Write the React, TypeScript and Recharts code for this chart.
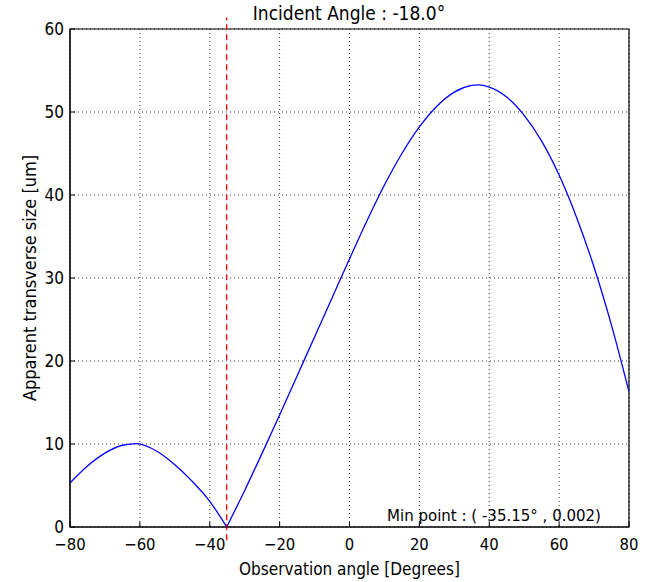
import { LineChart, Line, XAxis, YAxis, CartesianGrid, ReferenceLine, ReferenceArea } from 'recharts';

// left branch (before the minimum) and right branch (after it)
const leftAngles = [-80, -75, -70, -65, -61, -55, -50, -45, -40, -35.15];
const leftSize = [5.3, 7.35, 8.9, 9.85, 10.05, 9.1, 7.5, 5.5, 3.1, 0.002];

const rightAngles = [-35.15, -30, -25, -20, -15, -10, -5, 0, 5, 10, 15, 20, 25, 30, 35, 37, 40, 45, 50, 55, 60, 65, 70, 75, 80];
const rightSize = [0.002, 4.4, 8.9, 13.5, 18.2, 22.9, 27.6, 32.3, 36.9, 41.2, 45.0, 48.2, 50.7, 52.4, 53.2, 53.27, 53.0, 51.8, 49.6, 46.5, 42.4, 37.3, 31.3, 24.3, 16.3];

const xTicks = [-80, -60, -40, -20, 0, 20, 40, 60, 80];
const yTicks = [0, 10, 20, 30, 40, 50, 60];

const minAngle = -35.15;
const minValue = 0.002;

const leftData = leftAngles.map((x, i) => ({ x, y: leftSize[i] }));
const rightData = rightAngles.map((x, i) => ({ x, y: rightSize[i] }));

const font = "'DejaVu Sans Condensed', 'Liberation Sans Narrow', 'DejaVu Sans', sans-serif";
const fmt = (v: number) => String(v).replace('-', '\u2212');

export default function App() {
  return (
    <div style={{ position: 'absolute', left: 0, top: 0, width: 654, height: 582, background: '#fff', fontFamily: font }}>
      <div style={{ position: 'absolute', left: 69, width: 560, top: 2, textAlign: 'center', fontSize: 19, color: '#000' }}>
        Incident Angle : -18.0°
      </div>
      <LineChart width={654} height={582} data={rightData} margin={{ top: 29, right: 25, bottom: 0, left: 10 }}>
        <CartesianGrid stroke="#000" strokeDasharray="1 3" strokeWidth={0.8} verticalValues={xTicks} horizontalValues={yTicks} />
        <XAxis
          dataKey="x"
          type="number"
          domain={[-80, 80]}
          ticks={xTicks}
          allowDataOverflow
          height={55}
          tickFormatter={fmt}
          tick={{ fill: '#000', fontSize: 16.5, fontFamily: font }}
          tickSize={-5}
          tickMargin={16}
          tickLine={{ stroke: '#000' }}
          axisLine={{ stroke: '#000' }}
          label={{ value: 'Observation angle [Degrees]', position: 'insideBottom', offset: 7, fill: '#000', fontSize: 17, fontFamily: font }}
        />
        <YAxis
          type="number"
          domain={[0, 60]}
          ticks={yTicks}
          width={60}
          tick={{ fill: '#000', fontSize: 17, fontFamily: font }}
          tickSize={-5}
          tickMargin={11}
          tickLine={{ stroke: '#000' }}
          axisLine={{ stroke: '#000' }}
          label={{ value: 'Apparent transverse size [um]', angle: -90, position: 'insideLeft', offset: 20, fill: '#000', fontSize: 18, fontFamily: font, style: { textAnchor: 'middle' } }}
        />
        <ReferenceArea x1={-80} x2={80} y1={0} y2={60} fill="none" stroke="#000" strokeWidth={1.2} />
        <Line data={leftData} dataKey="y" type="monotone" stroke="#0000ff" strokeWidth={1.3} dot={false} isAnimationActive={false} />
        <Line data={rightData} dataKey="y" type="monotone" stroke="#0000ff" strokeWidth={1.3} dot={false} isAnimationActive={false} />
        <ReferenceLine
          segment={[{ x: minAngle, y: -1.6 }, { x: minAngle, y: 61.4 }]}
          ifOverflow="visible"
          stroke="#ff0000"
          strokeWidth={1.3}
          strokeDasharray="6 4"
        />
      </LineChart>
      <div style={{ position: 'absolute', left: 387, top: 505, fontSize: 16.7, color: '#000', whiteSpace: 'nowrap' }}>
        Min point : ( {minAngle}° , {minValue})
      </div>
    </div>
  );
}
